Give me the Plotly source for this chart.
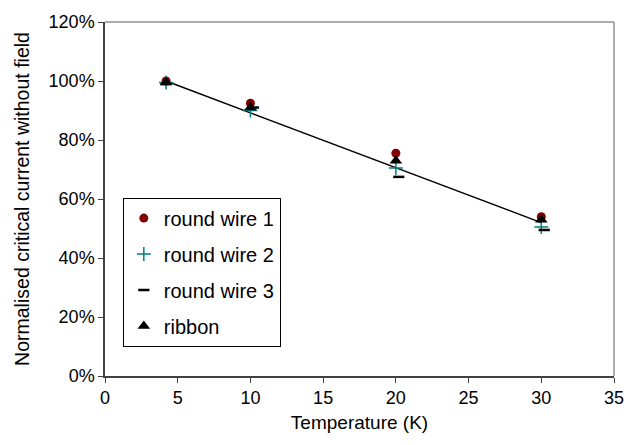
import plotly.graph_objects as go

temps = [4.2, 10, 20, 30]
temps_rw3 = [4.2, 10.2, 20.2, 30.2]
rw1 = [1.00, 0.925, 0.755, 0.54]
rw2 = [0.995, 0.90, 0.705, 0.505]
rw3 = [0.99, 0.91, 0.675, 0.495]
ribbon = [0.995, 0.91, 0.73, 0.53]
trend_x = [4.2, 30]
trend_y = [1.00, 0.52]

FONT = "Liberation Sans, Arial, sans-serif"

fig = go.Figure()
fig.add_trace(go.Scatter(x=trend_x, y=trend_y, mode="lines",
                         line=dict(color="black", width=1.5), showlegend=False,
                         hoverinfo="skip"))
fig.add_trace(go.Scatter(x=temps, y=rw1, mode="markers", name="round wire 1",
                         legendgroup="a",
                         marker=dict(symbol="circle", size=9, color="#800000")))
fig.add_trace(go.Scatter(x=temps, y=rw2, mode="markers", name="round wire 2",
                         legendgroup="b",
                         marker=dict(symbol="cross-thin", size=10, color="#008080",
                                     line=dict(color="#008080", width=1.5))))
fig.add_trace(go.Scatter(x=temps_rw3, y=rw3, mode="markers", name="round wire 3",
                         legendgroup="c",
                         marker=dict(symbol="line-ew", size=8, color="black",
                                     line=dict(color="black", width=2.5))))
fig.add_trace(go.Scatter(x=temps, y=ribbon, mode="markers", name="ribbon",
                         legendgroup="d",
                         marker=dict(symbol="triangle-up", size=11, color="black")))

fig.update_layout(
    width=636, height=445,
    margin=dict(l=105, r=13, t=16, b=69),
    paper_bgcolor="white", plot_bgcolor="white",
    font=dict(family=FONT, size=18, color="black"),
    showlegend=True,
    legend=dict(x=0.035, y=0.083, xanchor="left", yanchor="bottom",
                bgcolor="white", bordercolor="black", borderwidth=1,
                font=dict(family=FONT, size=20, color="black"),
                traceorder="grouped", tracegroupgap=7,
                itemwidth=30),
    xaxis=dict(range=[0, 35], dtick=5, tick0=0, showgrid=False, zeroline=False,
               showline=True, linecolor="#404040", linewidth=1.5,
               ticks="outside", ticklen=5, tickcolor="#404040",
               title=dict(text="Temperature (K)", font=dict(size=19), standoff=8),
               tickfont=dict(size=18)),
    yaxis=dict(range=[0, 1.2], dtick=0.2, tick0=0, tickformat=".0%",
               showgrid=False, zeroline=False,
               showline=True, linecolor="#404040", linewidth=1.5,
               ticks="outside", ticklen=5, tickcolor="#404040",
               title=dict(text="Normalised critical current without field",
                          font=dict(size=19.5), standoff=14),
               tickfont=dict(size=18)),
    shapes=[
        dict(type="line", xref="paper", yref="paper", x0=0, x1=1, y0=1, y1=1,
             line=dict(color="#909090", width=1.5)),
        dict(type="line", xref="paper", yref="paper", x0=1, x1=1, y0=0, y1=1,
             line=dict(color="#909090", width=1.5)),
    ],
)

fig.write_html("out.html")
